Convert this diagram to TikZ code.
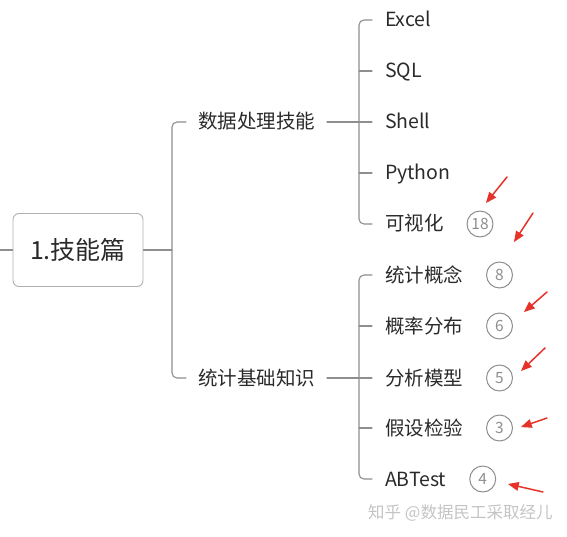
\documentclass[tikz,border=0pt]{standalone}
\usepackage{fontspec}
\setmainfont{Noto Sans CJK SC}
\usepackage{tikz}
\usetikzlibrary{arrows}
\usetikzlibrary{positioning}

\definecolor{linegray}{HTML}{8E8E8E}
\definecolor{textgray}{HTML}{2A2A2A}
\definecolor{markred}{HTML}{E5332A}
\definecolor{wmgray}{HTML}{C4C4C4}

\tikzset{
  rootbox/.style={draw=linegray!70, rounded corners=6pt, line width=0.9pt,
    minimum width=130pt, minimum height=73pt, inner sep=0pt,
    font=\fontsize{25}{25}\selectfont, text=textgray,
    text height=20pt, text depth=2pt},
  topic/.style={anchor=west, inner sep=0pt, outer xsep=12pt,
    font=\fontsize{19.5}{19.5}\selectfont, text=textgray,
    text height=16pt, text depth=2pt},
  leaf/.style={anchor=west, inner sep=0pt, outer xsep=13pt,
    font=\fontsize{19.5}{19.5}\selectfont, text=textgray,
    text height=16pt, text depth=2pt},
  count/.style={draw=linegray, circle, minimum size=26pt, inner sep=0pt,
    line width=1pt, font=\fontsize{15.5}{15.5}\selectfont, text=linegray,
    text height=11pt, text depth=0pt},
  branch/.style={draw=linegray, line width=1.1pt, rounded corners=5pt},
  pointer/.style={draw=markred, line width=1.5pt, ->},
}

\begin{document}
\begin{tikzpicture}[x=1pt,y=-1pt,line cap=round,line join=round,>=triangle 45]
  \useasboundingbox (0,0) rectangle (567,537);

  % root
  \node[rootbox] (root) at (78,250) {1.技能篇};
  \draw[branch] (0,250) -- (root.west);

  % two topics
  \node[topic] (proc) at (186,122) {数据处理技能};
  \node[topic] (stat) at (186,378) {统计基础知识};
  \draw[branch] (root.east) -- (172,250);
  \draw[branch] (proc.west) -- (172,122) -- (172,378) -- (stat.west);

  % tools
  \node[leaf] (excel)  at (372,20)  {Excel};
  \node[leaf] (sql)    at (372,71)  {SQL};
  \node[leaf] (shell)  at (372,122) {Shell};
  \node[leaf] (python) at (372,173) {Python};
  \node[leaf] (vis)    at (372,224) {可视化};
  \draw[branch] (excel.west) -- (359,20) -- (359,224) -- (vis.west);
  \draw[branch] (proc.east) -- (shell.west);
  \draw[branch] (359,71) -- (sql.west);
  \draw[branch] (359,173) -- (python.west);

  % statistics
  \node[leaf] (concept) at (372,275) {统计概念};
  \node[leaf] (distr)   at (372,326) {概率分布};
  \node[leaf] (model)   at (372,378) {分析模型};
  \node[leaf] (test)    at (372,428) {假设检验};
  \node[leaf] (abtest)  at (372,479) {ABTest};
  \draw[branch] (concept.west) -- (359,275) -- (359,479) -- (abtest.west);
  \draw[branch] (stat.east) -- (model.west);
  \draw[branch] (359,326) -- (distr.west);
  \draw[branch] (359,428) -- (test.west);

  % counts
  \node[count, right=10pt of vis]     (n18) {18};
  \node[count, right=10pt of concept] (n8)  {8};
  \node[count, right=10pt of distr]   (n6)  {6};
  \node[count, right=10pt of model]   (n5)  {5};
  \node[count, right=10pt of test]    (n3)  {3};
  \node[count, right=10pt of abtest]  (n4)  {4};

  % red marks
  \draw[pointer] (507,177) -- (486,203);
  \draw[pointer] (533,213) -- (514,242);
  \draw[pointer] (547,292) -- (524,312);
  \draw[pointer] (545,348) -- (521,371);
  \draw[pointer] (547,418) -- (521,427);
  \draw[pointer] (543,492) -- (508,484);

  % watermark
  \node[text=wmgray, font=\fontsize{16.5}{16.5}\selectfont, anchor=west, inner sep=0pt] (mark) at (368,513) {知乎 @数据民工采取经儿};
\end{tikzpicture}
\end{document}
